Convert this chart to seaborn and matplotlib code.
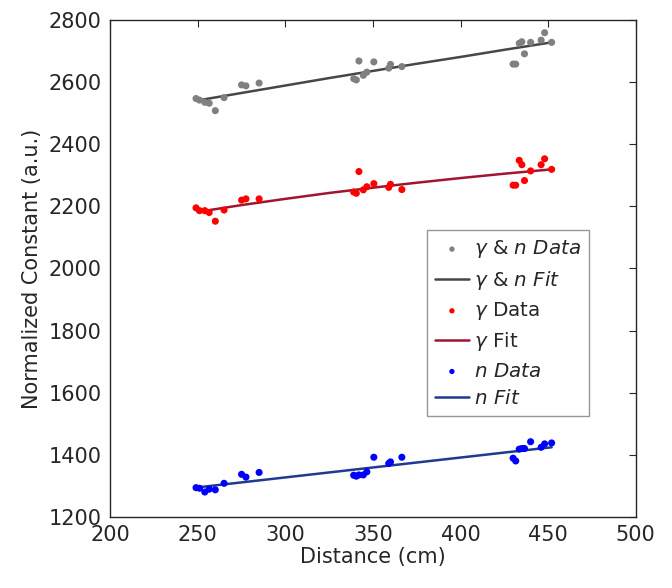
import numpy as np
import pandas as pd
import matplotlib
matplotlib.use("Agg")
import matplotlib.pyplot as plt
import seaborn as sns

# measured distances (cm), shared by all three series
distance = [249, 251, 254, 256.5, 260, 265, 275, 277.5, 285,
            339, 340.5, 342, 344.5, 346.5, 350.5, 359, 360, 366.5,
            430, 431.5, 433.5, 435, 436.5, 440, 446, 448, 452]

gamma_n_data = [2547, 2542, 2535, 2532, 2508, 2550, 2591, 2588, 2597,
                2611, 2607, 2668, 2622, 2632, 2665, 2645, 2657, 2650,
                2658, 2658, 2725, 2730, 2691, 2728, 2735, 2759, 2728]
gamma_data = [2195, 2186, 2186, 2180, 2152, 2188, 2220, 2224, 2224,
              2246, 2242, 2312, 2253, 2263, 2273, 2261, 2271, 2254,
              2268, 2268, 2348, 2334, 2283, 2314, 2334, 2353, 2319]
n_data = [1294, 1292, 1280, 1289, 1287, 1308, 1337, 1328, 1343,
          1334, 1331, 1335, 1335, 1345, 1392, 1372, 1377, 1392,
          1389, 1380, 1418, 1420, 1420, 1442, 1424, 1435, 1438]

# fit curves
fit_x = [250, 275, 300, 325, 350, 375, 400, 425, 452]
gamma_n_fit = [2541, 2565, 2589, 2613, 2636, 2659, 2681, 2704, 2728]
gamma_fit = [2182, 2204, 2224, 2243, 2260, 2276, 2291, 2305, 2319]
n_fit = [1295, 1311, 1327, 1343, 1359, 1375, 1391, 1407, 1424]

x_ticks = [200, 250, 300, 350, 400, 450, 500]
y_ticks = [1200, 1400, 1600, 1800, 2000, 2200, 2400, 2600, 2800]

sns.set_style("white")
plt.rcParams["font.family"] = ["DejaVu Sans"]
plt.rcParams["mathtext.fontset"] = "dejavusans"

fig = plt.figure(figsize=(6.72, 5.88), dpi=100)
ax = fig.add_axes([0.164, 0.121, 0.782, 0.845])

series = [
    (gamma_n_data, gamma_n_fit, "#808080", "#474747",
     r"$\gamma$ & $n\ Data$", r"$\gamma$ & $n\ Fit$"),
    (gamma_data, gamma_fit, "#ff0000", "#a2142f",
     r"$\gamma$ Data", r"$\gamma$ Fit"),
    (n_data, n_fit, "#0000ff", "#1f3a93",
     r"$n\ Data$", r"$n\ Fit$"),
]

for pts, fit, pcol, lcol, dlab, flab in series:
    df = pd.DataFrame({"x": distance, "y": pts})
    sns.scatterplot(data=df, x="x", y="y", ax=ax, color=pcol, s=26,
                    edgecolor="none", label=dlab, zorder=3)
    fdf = pd.DataFrame({"x": fit_x, "y": fit})
    sns.lineplot(data=fdf, x="x", y="y", ax=ax, color=lcol, lw=1.8,
                 label=flab, zorder=2)

ax.set_xlim(200, 500)
ax.set_ylim(1200, 2800)
ax.set_xticks(x_ticks)
ax.set_yticks(y_ticks)
ax.tick_params(direction="in", top=True, right=True, length=5,
               width=0.8, colors="#262626", labelsize=15, pad=6)
for sp in ax.spines.values():
    sp.set_color("#262626")
    sp.set_linewidth(1.0)

ax.set_xlabel("Distance (cm)", fontsize=15, color="#262626", labelpad=1)
ax.set_ylabel("Normalized Constant (a.u.)", fontsize=15, color="#262626",
              labelpad=5)

leg = ax.legend(loc="lower left", bbox_to_anchor=(0.603, 0.203),
                borderaxespad=0, fontsize=14.3, frameon=True, fancybox=False,
                handlelength=1.7, handletextpad=0.25, labelspacing=0.42,
                borderpad=0.4, markerscale=0.75)
leg.get_frame().set_edgecolor("#7f7f7f")
leg.get_frame().set_linewidth(1.0)

fig.savefig("out.png", dpi=100)
